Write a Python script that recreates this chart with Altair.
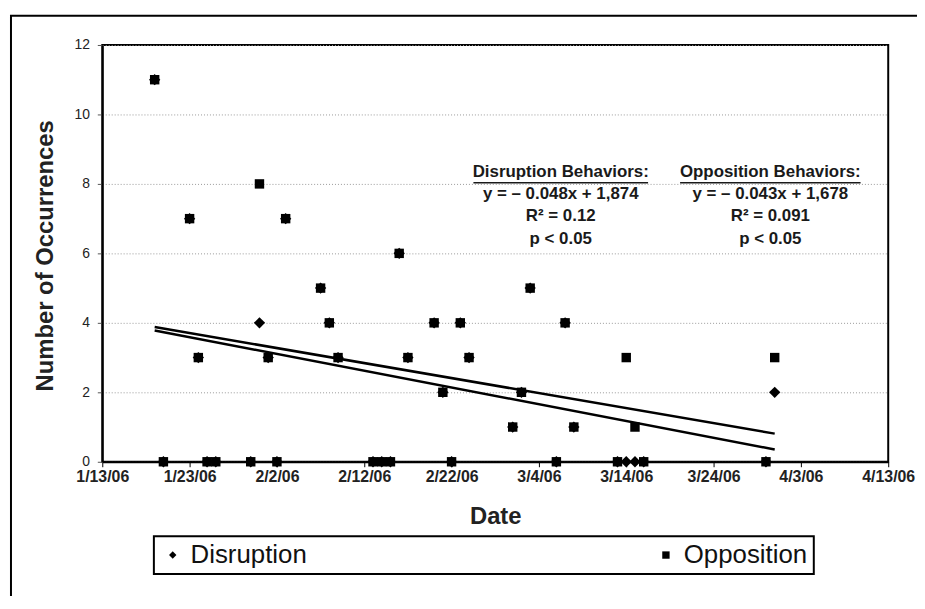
import altair as alt
import pandas as pd

FONT = "Liberation Sans, Arial, sans-serif"

# ---- data ----
dates = ["2006-01-19", "2006-01-20", "2006-01-23", "2006-01-24", "2006-01-25", "2006-01-26",
         "2006-01-30", "2006-01-31", "2006-02-01", "2006-02-02", "2006-02-03", "2006-02-07",
         "2006-02-08", "2006-02-09", "2006-02-13", "2006-02-14", "2006-02-15", "2006-02-16",
         "2006-02-17", "2006-02-20", "2006-02-21", "2006-02-22", "2006-02-23", "2006-02-24",
         "2006-03-01", "2006-03-02", "2006-03-03", "2006-03-06", "2006-03-07", "2006-03-08",
         "2006-03-13", "2006-03-14", "2006-03-15", "2006-03-16", "2006-03-30", "2006-03-31"]
disruption = [11, 0, 7, 3, 0, 0, 0, 4, 3, 0, 7, 5, 4, 3, 0, 0, 0, 6,
              3, 4, 2, 0, 4, 3, 1, 2, 5, 0, 4, 1, 0, 0, 0, 0, 0, 2]
opposition = [11, 0, 7, 3, 0, 0, 0, 8, 3, 0, 7, 5, 4, 3, 0, 0, 0, 6,
              3, 4, 2, 0, 4, 3, 1, 2, 5, 0, 4, 1, 0, 3, 1, 0, 0, 3]
series_names = ["Disruption", "Opposition"]
series_shapes = ["diamond", "square"]

x_ticks = ["2006-01-13", "2006-01-23", "2006-02-02", "2006-02-12", "2006-02-22",
           "2006-03-04", "2006-03-14", "2006-03-24", "2006-04-03", "2006-04-13"]
y_ticks = [0, 2, 4, 6, 8, 10, 12]

ann_dates = ["2006-03-06T12:00:00Z"] * 4 + ["2006-03-30T12:00:00Z"] * 4
ann_values = [8.2, 7.56, 6.92, 6.28] * 2
ann_labels = ["Disruption Behaviors:", "y = \u2013 0.048x + 1,874", "R\u00b2 = 0.12", "p < 0.05",
              "Opposition Behaviors:", "y = \u2013 0.043x + 1,678", "R\u00b2 = 0.091", "p < 0.05"]
ul_start = ["2006-02-24T12:00:00Z", "2006-03-20T04:00:00Z"]
ul_end = ["2006-03-16T12:00:00Z", "2006-04-09T20:00:00Z"]
ul_value = [8.03, 8.03]

# ---- tables ----
df = pd.DataFrame({
    "date": dates * 2,
    "value": disruption + opposition,
    "series": [series_names[0]] * len(dates) + [series_names[1]] * len(dates),
})
df_d = df[df.series == series_names[0]]
df_o = df[df.series == series_names[1]]
ann = pd.DataFrame({"date": ann_dates, "value": ann_values, "label": ann_labels})
ul = pd.DataFrame({"date": ul_start, "date2": ul_end, "value": ul_value})
frame = pd.DataFrame({"k": [0]})


def dt(s):
    y, m, d = (int(p) for p in s.split("-"))
    return alt.DateTime(year=y, month=m, date=d, utc=True)


x_scale = alt.Scale(type="utc", domain=[dt(x_ticks[0]), dt(x_ticks[-1])])
x_axis = alt.Axis(values=[dt(s) for s in x_ticks],
                  labelExpr="utcFormat(datum.value, '%-m/%-d/%y')",
                  title="Date", grid=False, labelFont=FONT, labelFontSize=16,
                  labelFontWeight="bold", labelColor="#222", labelPadding=2,
                  labelFlush=False, labelOverlap=False, tickSize=5, tickColor="black",
                  domainColor="black", domainWidth=2, titleFont=FONT, titleFontSize=24,
                  titleFontWeight="bold", titleColor="#222", titlePadding=20)
y_scale = alt.Scale(domain=[0, 12], nice=False)
y_axis = alt.Axis(values=y_ticks, title="Number of Occurrences", grid=True, gridDash=[1, 2],
                  gridColor="#999", gridWidth=1, labelFont=FONT, labelFontSize=14,
                  labelColor="#222", labelPadding=8, tickSize=5, tickColor="#555",
                  domainColor="black", domainWidth=2, titleFont=FONT, titleFontSize=24,
                  titleFontWeight="bold", titleColor="#222", titleX=-57, titleY=212,
                  titleBaseline="middle")

X = alt.X("date:T", scale=x_scale, axis=x_axis)
Y = alt.Y("value:Q", scale=y_scale, axis=y_axis)

legend = alt.Legend(title=None, orient="none", legendX=52, legendY=495, direction="horizontal",
                    columnPadding=348, padding=6, strokeColor="black", fillColor="white",
                    symbolSize=55, symbolFillColor="black", symbolStrokeColor="black",
                    labelFont=FONT, labelFontSize=26, labelColor="#111", labelOffset=5)
shape_scale = alt.Scale(domain=series_names, range=series_shapes)
S = alt.Shape("series:N", scale=shape_scale, legend=legend)

frame_layer = alt.Chart(frame).mark_rect(fillOpacity=0, stroke="black", strokeWidth=2).encode(
    x=alt.value(-92), x2=alt.value(1000), y=alt.value(-29.4), y2=alt.value(800))

d_layer = alt.Chart(df_d).mark_point(filled=True, size=130, opacity=1, color="black").encode(
    x=X, y=Y, shape=S)
o_layer = alt.Chart(df_o).mark_point(filled=True, size=90, opacity=1, color="black").encode(
    x=X, y=Y, shape=S)

trend = (alt.Chart(df)
         .transform_calculate(t="time(datum.date)")
         .transform_regression("t", "value", groupby=["series"])
         .transform_calculate(date="datum.t")
         .mark_line(color="black", strokeWidth=2.5)
         .encode(x=X, y=Y, detail="series:N"))

ann_layer = alt.Chart(ann).mark_text(font=FONT, fontSize=17, fontWeight="bold", color="#1a1a1a",
                                     align="center", baseline="alphabetic").encode(
    x=X, y=Y, text="label:N")
ul_layer = alt.Chart(ul).mark_rule(color="#1a1a1a", strokeWidth=1.5).encode(
    x=X, x2=alt.X2("date2:T"), y=Y)

chart = (alt.layer(frame_layer, d_layer, o_layer, trend, ann_layer, ul_layer)
         .properties(width=792, height=420,
                     padding={"left": 95, "top": 35, "right": 29, "bottom": 133},
                     autosize=alt.AutoSizeParams(type="none"), background="white")
         .configure_view(stroke="black", strokeWidth=2)
         .configure_legend(strokeWidth=2))

chart.save("out.html", embed_options={"renderer": "svg", "actions": False})
